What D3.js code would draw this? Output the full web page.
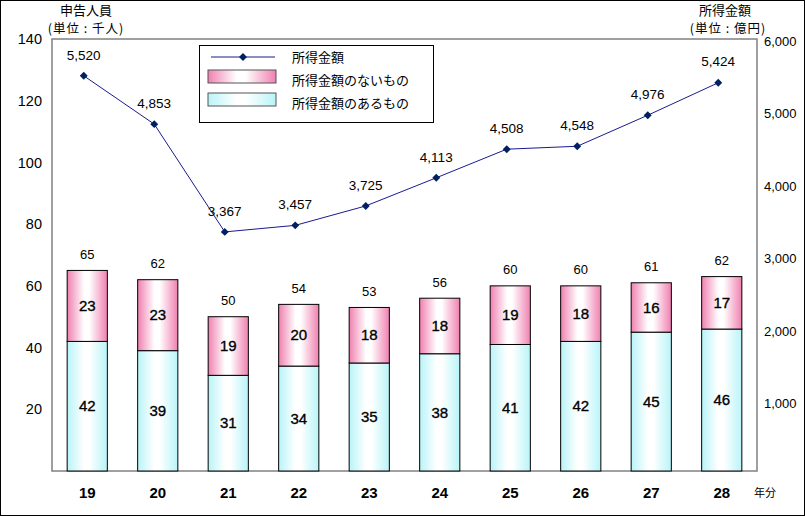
<!DOCTYPE html>
<html>
<head>
<meta charset="utf-8">
<script src="https://cdn.jsdelivr.net/npm/d3@7"></script>
<style>
  body { margin: 0; background: #fff; }
  text { font-family: "Liberation Sans", Arial, "Noto Sans CJK JP", sans-serif; }
  .jp { font-family: "Noto Sans CJK JP", sans-serif; }
</style>
</head>
<body>
<div id="viz"></div>
<script>
var years = ["19", "20", "21", "22", "23", "24", "25", "26", "27", "28"];
var withIncome = [42, 39, 31, 34, 35, 38, 41, 42, 45, 46];     // 所得金額のあるもの
var withoutIncome = [23, 23, 19, 20, 18, 18, 19, 18, 16, 17];  // 所得金額のないもの
var totals = [65, 62, 50, 54, 53, 56, 60, 60, 61, 62];
var incomeAmount = [5520, 4853, 3367, 3457, 3725, 4113, 4508, 4548, 4976, 5424]; // 億円
var leftTicks = [20, 40, 60, 80, 100, 120, 140];
var rightTicks = [1000, 2000, 3000, 4000, 5000, 6000];

var width = 805, height = 516;
var plot = {left: 52, right: 757, top: 39, bottom: 471};

var svg = d3.select('#viz').append('svg')
  .attr('width', width)
  .attr('height', height);

// gradients
var defs = svg.append('defs');
function grad(id, edge) {
  var g = defs.append('linearGradient').attr('id', id)
    .attr('x1', '0%').attr('x2', '100%').attr('y1', '0%').attr('y2', '0%');
  g.append('stop').attr('offset', '0%').attr('stop-color', edge);
  g.append('stop').attr('offset', '42%').attr('stop-color', '#ffffff');
  g.append('stop').attr('offset', '55%').attr('stop-color', '#ffffff');
  g.append('stop').attr('offset', '100%').attr('stop-color', edge);
}
grad('pinkGrad', '#f080b0');
grad('cyanGrad', '#b8f4f8');

svg.append('rect')
  .attr('x', 0.5).attr('y', 0.5)
  .attr('width', width - 1).attr('height', height - 1)
  .attr('fill', '#fff').attr('stroke', '#000');

var x = d3.scaleBand()
  .domain(years)
  .range([plot.left, plot.right])
  .paddingInner(0.43)
  .paddingOuter(0.215);

var yLeft = d3.scaleLinear().domain([0, 140]).range([plot.bottom, plot.top]);
var yRight = d3.scaleLinear().domain([0, 6000]).range([476, 41]);

// plot frame
svg.append('rect')
  .attr('x', plot.left).attr('y', plot.top)
  .attr('width', plot.right - plot.left).attr('height', plot.bottom - plot.top)
  .attr('fill', 'none').attr('stroke', '#808080').attr('stroke-width', 1.5);

// axes
var axL = svg.append('g')
  .attr('transform', 'translate(' + plot.left + ',0)')
  .call(d3.axisLeft(yLeft).tickValues(leftTicks).tickSize(0).tickPadding(10));
axL.select('.domain').remove();
axL.selectAll('text').attr('font-size', 14.5).attr('font-family', 'Liberation Sans, Arial, sans-serif').attr('fill', '#000');

var axR = svg.append('g')
  .attr('transform', 'translate(' + plot.right + ',0)')
  .call(d3.axisRight(yRight).tickValues(rightTicks).tickSize(0).tickPadding(7).tickFormat(d3.format(',')));
axR.select('.domain').remove();
axR.selectAll('text').attr('font-size', 13).attr('font-family', 'Liberation Sans, Arial, sans-serif').attr('fill', '#000');

var axB = svg.append('g')
  .attr('transform', 'translate(0,' + plot.bottom + ')')
  .call(d3.axisBottom(x).tickSize(0).tickPadding(16));
axB.select('.domain').remove();
axB.selectAll('text').attr('font-size', 15).attr('font-weight', 'bold')
  .attr('font-family', 'Liberation Sans, Arial, sans-serif').attr('fill', '#000');

// bars
var bars = svg.append('g');
years.forEach(function(yr, i) {
  var bx = x(yr), bw = x.bandwidth();
  var top1 = withIncome[i];
  var top2 = withIncome[i] + withoutIncome[i];
  bars.append('rect')
    .attr('x', bx).attr('y', yLeft(top1))
    .attr('width', bw).attr('height', yLeft(0) - yLeft(top1))
    .attr('fill', 'url(#cyanGrad)').attr('stroke', '#000').attr('stroke-width', 1);
  bars.append('rect')
    .attr('x', bx).attr('y', yLeft(top2))
    .attr('width', bw).attr('height', yLeft(top1) - yLeft(top2))
    .attr('fill', 'url(#pinkGrad)').attr('stroke', '#000').attr('stroke-width', 1);
  bars.append('text')
    .attr('x', bx + bw / 2).attr('y', (yLeft(0) + yLeft(top1)) / 2)
    .attr('dy', '0.35em').attr('text-anchor', 'middle')
    .attr('font-size', 15).attr('stroke', '#000').attr('stroke-width', 0.35).text(withIncome[i]);
  bars.append('text')
    .attr('x', bx + bw / 2).attr('y', (yLeft(top1) + yLeft(top2)) / 2)
    .attr('dy', '0.35em').attr('text-anchor', 'middle')
    .attr('font-size', 15).attr('stroke', '#000').attr('stroke-width', 0.35).text(withoutIncome[i]);
  bars.append('text')
    .attr('x', bx + bw / 2).attr('y', yLeft(top2) - 16)
    .attr('dy', '0.35em').attr('text-anchor', 'middle')
    .attr('font-size', 13).text(totals[i]);
});

// line
var lineX = function(i) { return x(years[i]) + x.bandwidth() / 2 - 3.5; };
var line = d3.line()
  .x(function(d, i) { return lineX(i); })
  .y(function(d) { return yRight(d); });

svg.append('path')
  .datum(incomeAmount)
  .attr('d', line)
  .attr('fill', 'none')
  .attr('stroke', '#1a1a90')
  .attr('stroke-width', 1);

var diamond = d3.symbol().type(d3.symbolDiamond2).size(40);
svg.append('g').selectAll('path')
  .data(incomeAmount)
  .join('path')
  .attr('d', diamond)
  .attr('transform', function(d, i) { return 'translate(' + lineX(i) + ',' + yRight(d) + ')'; })
  .attr('fill', '#002060');

svg.append('g').selectAll('text')
  .data(incomeAmount)
  .join('text')
  .attr('x', function(d, i) { return lineX(i); })
  .attr('y', function(d) { return yRight(d) - 21; })
  .attr('dy', '0.35em')
  .attr('text-anchor', 'middle')
  .attr('font-size', 13.5)
  .text(function(d) { return d3.format(',')(d); });

// axis titles
svg.append('text').attr('class', 'jp').attr('x', 86).attr('y', 15)
  .attr('text-anchor', 'middle').attr('font-size', 13).text('申告人員');
svg.append('text').attr('class', 'jp').attr('x', 86).attr('y', 33)
  .attr('text-anchor', 'middle').attr('font-size', 12.5).attr('letter-spacing', 1).text('(単位 : 千人)');
svg.append('text').attr('class', 'jp').attr('x', 725).attr('y', 15)
  .attr('text-anchor', 'middle').attr('font-size', 13).text('所得金額');
svg.append('text').attr('class', 'jp').attr('x', 728).attr('y', 33)
  .attr('text-anchor', 'middle').attr('font-size', 12.5).attr('letter-spacing', 1).text('(単位 : 億円)');
svg.append('text').attr('class', 'jp').attr('x', 765).attr('y', 497)
  .attr('text-anchor', 'middle').attr('font-size', 11).text('年分');

// legend
var legend = svg.append('g').attr('transform', 'translate(199,45)');
legend.append('rect')
  .attr('x', 0.5).attr('y', 0.5).attr('width', 234).attr('height', 77)
  .attr('fill', '#fff').attr('stroke', '#000');
legend.append('line')
  .attr('x1', 12).attr('x2', 76).attr('y1', 12).attr('y2', 12)
  .attr('stroke', '#1a1a90');
legend.append('path').attr('d', diamond).attr('transform', 'translate(44,12)').attr('fill', '#002060');
legend.append('rect').attr('x', 9).attr('y', 25).attr('width', 68).attr('height', 13)
  .attr('fill', 'url(#pinkGrad)').attr('stroke', '#555');
legend.append('rect').attr('x', 9).attr('y', 48).attr('width', 68).attr('height', 13)
  .attr('fill', 'url(#cyanGrad)').attr('stroke', '#555');
var legendLabels = ['所得金額', '所得金額のないもの', '所得金額のあるもの'];
legend.selectAll('text.lg')
  .data(legendLabels)
  .join('text')
  .attr('class', 'jp lg')
  .attr('x', 93)
  .attr('y', function(d, i) { return 12 + i * 23; })
  .attr('dy', '0.35em')
  .attr('font-size', 13)
  .text(function(d) { return d; });
</script>
</body>
</html>
